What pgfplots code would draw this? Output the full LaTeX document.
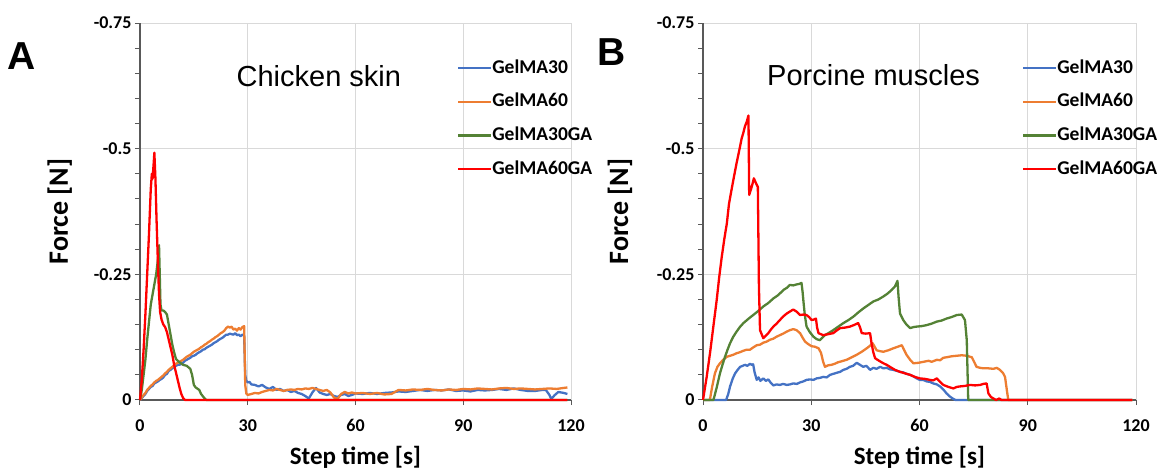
\documentclass[border=0pt]{standalone}
\usepackage{fontspec}
\setmainfont{Carlito}
\newfontfamily\arial{Liberation Sans}
\usepackage{pgfplots}
\pgfplotsset{compat=1.18}
\definecolor{cblue}{HTML}{4472C4}
\definecolor{corange}{HTML}{ED7D31}
\definecolor{cgreen}{HTML}{548235}
\definecolor{cred}{HTML}{FF0000}
\definecolor{cgrid}{HTML}{D9D9D9}
\definecolor{caxis}{HTML}{595959}
\pgfplotsset{forcestyle/.style={
  scale only axis, height=377pt,
  xmin=0, xmax=120, ymin=-0.75, ymax=0, y dir=reverse,
  axis x line*=bottom, axis y line*=left,
  xtick={0,30,60,90,120}, xticklabels={0,30,60,90,120},
  ytick={-0.75,-0.5,-0.25,0}, yticklabels={-0.75,-0.5,-0.25,0},
  minor ytick={-0.7,-0.65,-0.6,-0.55,-0.45,-0.4,-0.35,-0.3,-0.2,-0.15,-0.1,-0.05},
  xmajorgrids, ymajorgrids,
  major grid style={cgrid, line width=1pt},
  tick align=outside, major tick length=5pt, minor tick length=5pt,
  every tick/.style={caxis, line width=1pt},
  minor tick style={caxis, line width=1pt},
  axis line style={caxis, line width=1.3pt},
  ticklabel style={font=\bfseries\fontsize{18}{18}\selectfont},
  xticklabel style={yshift=-11pt},
  xlabel={Step time [s]}, ylabel={Force [N]},
  xlabel style={font=\bfseries\fontsize{25}{25}\selectfont, at={(axis description cs:0.5,-0.151)}, anchor=center},
  ylabel style={font=\bfseries\fontsize{28}{28}\selectfont, anchor=center},
  clip=false,
  legend style={anchor=north west, draw=none, fill=none, inner sep=0pt, outer sep=0pt,
    font=\bfseries\fontsize{19.5}{19.5}\selectfont, row sep=15.7pt,
    nodes={inner sep=0pt, text height=14pt, text depth=4pt},
    /tikz/every odd column/.style={column sep=0pt}},
  legend cell align=left,
  legend image code/.code={\draw[##1] (0pt,0pt) -- (33pt,0pt);},
  every axis plot/.append style={line width=2.3pt, line join=round},
}}
\begin{document}
\begin{tikzpicture}
\useasboundingbox (0,0) rectangle (1160pt,470pt);
\begin{axis}[forcestyle, width=431pt, at={(140pt,70pt)}, anchor=south west,
  ylabel style={at={(axis description cs:-0.186,0.5)}},
  legend style={at={(axis description cs:0.7355,0.9045)}}]
\addplot[cblue] coordinates {(0,0) (0.5,-0.004) (1,-0.008) (1.5,-0.012) (2,-0.018) (2.5,-0.022) (3,-0.026) (3.5,-0.028) (4,-0.033) (4.5,-0.035) (5,-0.037) (5.5,-0.04) (6,-0.042) (6.5,-0.045) (7,-0.05) (7.5,-0.052) (8,-0.058) (8.5,-0.06) (9,-0.063) (9.5,-0.066) (10,-0.068) (10.5,-0.07) (11,-0.07) (11.5,-0.072) (12,-0.074) (12.5,-0.078) (13,-0.08) (13.5,-0.082) (14,-0.084) (14.5,-0.087) (15,-0.088) (15.5,-0.09) (16,-0.093) (16.5,-0.095) (17,-0.097) (17.5,-0.1) (18,-0.101) (18.5,-0.104) (19,-0.106) (19.5,-0.108) (20,-0.11) (20.5,-0.113) (21,-0.115) (21.5,-0.117) (22,-0.12) (22.5,-0.122) (23,-0.124) (23.5,-0.127) (24,-0.13) (24.5,-0.13) (25,-0.132) (25.5,-0.131) (26,-0.13) (26.5,-0.133) (27,-0.129) (27.5,-0.13) (28,-0.127) (28.5,-0.13) (29,-0.128) (29.3,-0.05) (29.6,-0.038) (30,-0.035) (30.5,-0.036) (31,-0.031) (32,-0.03) (33,-0.027) (34,-0.03) (35,-0.025) (36,-0.022) (37,-0.026) (38,-0.02) (39,-0.022) (40,-0.018) (41,-0.02) (42,-0.016) (43,-0.018) (44,-0.014) (45,-0.012) (46,-0.008) (47,-0.003) (48,-0.015) (49,-0.024) (50,-0.015) (51,-0.012) (52,-0.01) (53,-0.012) (54,-0.008) (55,-0.006) (56,-0.01) (57,-0.012) (58,-0.008) (59,-0.01) (60,-0.013) (62,-0.012) (64,-0.014) (66,-0.012) (68,-0.014) (70,-0.015) (72,-0.017) (74,-0.016) (76,-0.018) (78,-0.02) (80,-0.018) (82,-0.02) (84,-0.019) (86,-0.021) (88,-0.018) (90,-0.019) (92,-0.017) (94,-0.02) (96,-0.019) (98,-0.02) (100,-0.022) (102,-0.02) (104,-0.023) (106,-0.02) (108,-0.018) (110,-0.018) (112,-0.02) (113,-0.02) (114,-0.01) (114.5,-0.002) (115.5,-0.01) (116.5,-0.016) (118,-0.014) (119,-0.012)};
\addplot[corange] coordinates {(0,0) (0.5,-0.005) (1,-0.01) (1.5,-0.014) (2,-0.02) (2.5,-0.024) (3,-0.028) (3.5,-0.031) (4,-0.035) (4.5,-0.038) (5,-0.04) (5.5,-0.043) (6,-0.046) (6.5,-0.049) (7,-0.053) (7.5,-0.056) (8,-0.06) (8.5,-0.063) (9,-0.066) (9.5,-0.069) (10,-0.072) (10.5,-0.074) (11,-0.076) (11.5,-0.078) (12,-0.08) (12.5,-0.083) (13,-0.086) (13.5,-0.088) (14,-0.09) (14.5,-0.093) (15,-0.096) (15.5,-0.098) (16,-0.1) (16.5,-0.102) (17,-0.105) (17.5,-0.107) (18,-0.11) (18.5,-0.112) (19,-0.115) (19.5,-0.117) (20,-0.12) (20.5,-0.122) (21,-0.125) (21.5,-0.127) (22,-0.13) (22.5,-0.133) (23,-0.135) (23.5,-0.138) (24,-0.143) (24.5,-0.146) (25,-0.144) (25.5,-0.146) (26,-0.14) (26.5,-0.142) (27,-0.138) (27.5,-0.143) (28,-0.14) (28.5,-0.145) (29,-0.147) (29.3,-0.03) (29.6,-0.013) (30,-0.01) (31,-0.012) (32,-0.014) (33,-0.013) (34,-0.016) (35,-0.018) (36,-0.02) (37,-0.019) (38,-0.022) (39,-0.02) (40,-0.018) (41,-0.02) (42,-0.021) (43,-0.02) (44,-0.022) (45,-0.021) (46,-0.023) (47,-0.022) (48,-0.024) (49,-0.022) (50,-0.02) (51,-0.018) (52,-0.02) (53,-0.015) (54,-0.005) (55,-0.002) (56,-0.012) (57,-0.016) (58,-0.013) (59,-0.015) (60,-0.013) (62,-0.014) (64,-0.012) (66,-0.014) (68,-0.011) (70,-0.012) (72,-0.02) (74,-0.019) (76,-0.021) (78,-0.02) (80,-0.022) (82,-0.02) (84,-0.019) (86,-0.021) (88,-0.02) (90,-0.022) (92,-0.021) (94,-0.023) (96,-0.022) (98,-0.021) (100,-0.023) (102,-0.024) (104,-0.022) (106,-0.023) (108,-0.022) (110,-0.021) (112,-0.022) (114,-0.023) (116,-0.022) (118,-0.024) (119,-0.025)};
\addplot[cgreen] coordinates {(0,0) (0.5,-0.02) (1,-0.05) (1.5,-0.08) (2,-0.12) (2.5,-0.155) (3,-0.19) (3.5,-0.21) (4,-0.23) (4.5,-0.25) (5,-0.28) (5.3,-0.308) (5.5,-0.25) (5.7,-0.19) (6,-0.178) (6.5,-0.178) (7,-0.175) (7.5,-0.17) (8,-0.15) (8.5,-0.13) (9,-0.11) (9.5,-0.095) (10,-0.082) (10.5,-0.078) (11,-0.075) (12,-0.07) (13,-0.068) (14,-0.062) (14.5,-0.05) (15,-0.03) (15.5,-0.025) (16.5,-0.02) (17,-0.012) (18,-0.003) (18.5,0) (119,0)};
\addplot[cred] coordinates {(0,0) (0.5,-0.04) (1,-0.1) (1.5,-0.17) (2,-0.25) (2.5,-0.33) (3,-0.42) (3.3,-0.45) (3.5,-0.44) (3.8,-0.47) (4.0,-0.492) (4.3,-0.44) (4.6,-0.36) (5.0,-0.27) (5.3,-0.21) (5.6,-0.175) (6.0,-0.16) (6.5,-0.15) (7.0,-0.145) (7.5,-0.135) (8.0,-0.12) (8.5,-0.105) (9.0,-0.09) (9.5,-0.07) (10.0,-0.055) (10.5,-0.04) (11.0,-0.025) (11.5,-0.012) (12,-0.004) (12.5,0) (119,0)};
\legend{GelMA30,GelMA60,GelMA30GA,GelMA60GA}
\node[font=\arial\fontsize{29}{29}\selectfont] at (axis description cs:0.415,0.859) {Chicken skin};
\node[font=\arial\bfseries\fontsize{39}{39}\selectfont] at (axis description cs:-0.274,0.9125) {A};
\end{axis}
\begin{axis}[forcestyle, width=433pt, at={(703pt,70pt)}, anchor=south west,
  ylabel style={at={(axis description cs:-0.192,0.5)}},
  legend style={at={(axis description cs:0.7367,0.9045)}}]
\addplot[cblue] coordinates {(0,0) (6.4,0) (7,-0.012) (7.5,-0.027) (8.2,-0.042) (8.9,-0.053) (9.6,-0.06) (10.3,-0.066) (11,-0.068) (11.6,-0.07) (12.3,-0.068) (13,-0.072) (13.5,-0.07) (13.9,-0.071) (14.3,-0.055) (14.9,-0.04) (15.4,-0.045) (15.9,-0.038) (16.7,-0.043) (17.4,-0.038) (18.1,-0.041) (18.8,-0.034) (19.5,-0.029) (20.4,-0.031) (21.3,-0.03) (22.2,-0.032) (23.2,-0.03) (24.1,-0.031) (25,-0.033) (26,-0.032) (26.9,-0.035) (27.8,-0.037) (28.7,-0.04) (29.7,-0.041) (30.6,-0.04) (31.5,-0.043) (32.4,-0.044) (33.3,-0.046) (34.3,-0.045) (35.2,-0.05) (36.1,-0.052) (37,-0.054) (38,-0.056) (38.9,-0.06) (39.8,-0.062) (40.7,-0.066) (41.6,-0.068) (42.6,-0.074) (43.5,-0.07) (44.4,-0.066) (45.3,-0.068) (46.3,-0.06) (47.2,-0.064) (48.1,-0.062) (49.1,-0.066) (50,-0.063) (50.9,-0.064) (51.8,-0.061) (52.7,-0.06) (53.7,-0.058) (54.6,-0.056) (55.5,-0.055) (56.4,-0.052) (57.4,-0.05) (58.3,-0.047) (59.2,-0.043) (60.1,-0.04) (61,-0.04) (62,-0.037) (62.9,-0.036) (63.8,-0.033) (64.8,-0.031) (65.7,-0.027) (66.6,-0.021) (67.5,-0.013) (68.4,-0.007) (69.4,-0.002) (70,0) (119,0)};
\addplot[corange] coordinates {(0,0) (1.9,0) (2.5,-0.025) (3.3,-0.053) (4,-0.066) (4.7,-0.073) (5.6,-0.08) (6.6,-0.086) (7.5,-0.088) (8.4,-0.09) (9.3,-0.093) (10.2,-0.095) (11.2,-0.098) (12.1,-0.1) (13,-0.1) (14,-0.105) (14.9,-0.109) (15.8,-0.11) (16.7,-0.114) (17.6,-0.116) (18.6,-0.12) (19.5,-0.122) (20.4,-0.126) (21.3,-0.129) (22.2,-0.132) (23.2,-0.136) (24.1,-0.139) (25,-0.141) (25.9,-0.139) (26.9,-0.133) (27.6,-0.124) (28.3,-0.116) (29.2,-0.111) (30.1,-0.107) (31,-0.106) (32,-0.103) (32.7,-0.094) (33.3,-0.076) (33.8,-0.066) (34.7,-0.069) (35.6,-0.07) (36.5,-0.072) (37.4,-0.075) (38.4,-0.077) (39.8,-0.08) (41.2,-0.085) (42.6,-0.09) (44,-0.096) (45.4,-0.103) (46.3,-0.108) (47,-0.113) (47.5,-0.107) (48.1,-0.099) (49.1,-0.097) (50,-0.096) (51.4,-0.099) (52.8,-0.103) (54,-0.106) (55.1,-0.109) (55.7,-0.1) (56.4,-0.09) (57.4,-0.08) (58.3,-0.073) (59.7,-0.074) (61.1,-0.076) (62.5,-0.078) (63.4,-0.076) (64.8,-0.08) (65.7,-0.079) (66.6,-0.084) (67.5,-0.085) (68.9,-0.087) (70.3,-0.088) (71.7,-0.089) (73.1,-0.088) (74.5,-0.085) (75.2,-0.075) (75.8,-0.066) (76.8,-0.064) (77.7,-0.063) (79.1,-0.063) (80.5,-0.062) (81.4,-0.064) (82.3,-0.06) (83.2,-0.053) (83.7,-0.046) (84.2,-0.02) (84.6,0) (119,0)};
\addplot[cgreen] coordinates {(0,0) (2.9,0) (3.8,-0.025) (4.7,-0.053) (5.4,-0.07) (6.1,-0.086) (6.8,-0.1) (7.5,-0.113) (8.4,-0.126) (9.3,-0.136) (10.2,-0.145) (11.2,-0.153) (12.5,-0.161) (13.9,-0.169) (15.3,-0.177) (16.7,-0.186) (18.1,-0.193) (19.5,-0.202) (20.9,-0.209) (22.3,-0.219) (23.2,-0.223) (24.1,-0.229) (25,-0.228) (26,-0.23) (26.7,-0.231) (27.3,-0.233) (27.6,-0.215) (27.8,-0.199) (28.2,-0.17) (28.7,-0.146) (29.6,-0.135) (30.6,-0.126) (31.5,-0.121) (32.4,-0.119) (33.1,-0.124) (33.8,-0.129) (35,-0.134) (36.1,-0.139) (37.5,-0.146) (38.9,-0.153) (40.3,-0.159) (41.7,-0.166) (43,-0.174) (44.4,-0.182) (45.8,-0.189) (47.2,-0.196) (48.6,-0.2) (50,-0.206) (51.2,-0.212) (52.3,-0.219) (53.2,-0.226) (53.9,-0.237) (54.2,-0.205) (54.6,-0.172) (55.5,-0.159) (56.4,-0.15) (57.4,-0.143) (58.3,-0.145) (59.2,-0.146) (60.6,-0.147) (62,-0.149) (63.4,-0.152) (64.8,-0.156) (66.1,-0.158) (67.5,-0.162) (68.9,-0.165) (70.3,-0.169) (71.7,-0.17) (72.6,-0.159) (73.1,-0.119) (73.3,-0.06) (73.5,0) (119,0)};
\addplot[cred] coordinates {(0,0) (1,-0.045) (1.94,-0.093) (2.9,-0.148) (3.8,-0.199) (4.5,-0.245) (5.2,-0.285) (5.9,-0.32) (6.6,-0.351) (7.2,-0.39) (7.9,-0.418) (8.6,-0.445) (9.3,-0.471) (10,-0.495) (10.7,-0.52) (11.2,-0.532) (11.6,-0.544) (12.1,-0.553) (12.6,-0.566) (12.8,-0.408) (13.5,-0.424) (14.1,-0.441) (14.7,-0.431) (15.2,-0.424) (15.5,-0.225) (15.8,-0.139) (16.7,-0.123) (17.4,-0.128) (18.1,-0.133) (18.8,-0.14) (19.5,-0.146) (20.4,-0.152) (21.3,-0.159) (22.2,-0.166) (23.2,-0.172) (24.1,-0.176) (25,-0.18) (25.9,-0.176) (26.9,-0.169) (27.8,-0.17) (28.7,-0.169) (29.4,-0.165) (30.1,-0.159) (30.7,-0.16) (31.3,-0.162) (31.6,-0.145) (32,-0.133) (33.3,-0.129) (34.7,-0.131) (36.1,-0.133) (37,-0.138) (38,-0.143) (39.3,-0.144) (40.7,-0.146) (41.8,-0.149) (43,-0.153) (43.5,-0.145) (44,-0.133) (45.1,-0.132) (46.3,-0.133) (46.7,-0.113) (47.2,-0.095) (47.7,-0.083) (48.8,-0.078) (50,-0.073) (50.9,-0.07) (51.8,-0.066) (53.2,-0.06) (54.6,-0.056) (56,-0.053) (57.4,-0.05) (58.7,-0.046) (60.1,-0.043) (61.5,-0.042) (62.9,-0.04) (63.8,-0.039) (64.8,-0.043) (65.7,-0.036) (66.6,-0.03) (68,-0.026) (69.4,-0.023) (70.3,-0.026) (71.2,-0.027) (72.6,-0.028) (74,-0.03) (75.4,-0.029) (76.8,-0.03) (77.7,-0.032) (78.6,-0.033) (79.1,-0.013) (79.8,-0.006) (80.5,-0.003) (81.2,0) (82.1,-0.003) (82.7,0) (119,0)};
\legend{GelMA30,GelMA60,GelMA30GA,GelMA60GA}
\node[font=\arial\fontsize{29}{29}\selectfont] at (axis description cs:0.394,0.862) {Porcine muscles};
\node[font=\arial\bfseries\fontsize{39}{39}\selectfont] at (axis description cs:-0.210,0.923) {B};
\end{axis}
\end{tikzpicture}
\end{document}
